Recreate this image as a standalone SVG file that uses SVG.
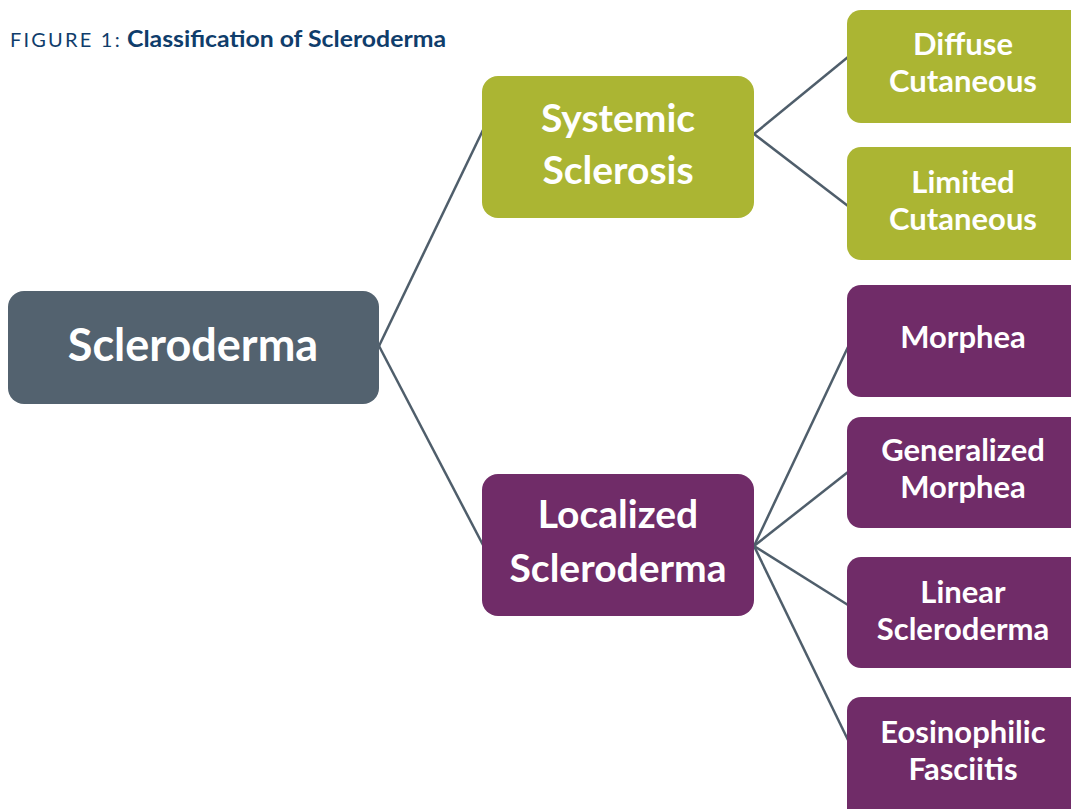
<svg xmlns="http://www.w3.org/2000/svg" width="1071" height="809" viewBox="0 0 1071 809">
<style>
.t{font-family:Lato,"Open Sans","Liberation Sans",sans-serif;font-weight:bold;fill:#ffffff;text-anchor:middle}
.big{font-size:45px}
.mid{font-size:39px}
.sm{font-size:31px}
.slate{fill:#53626f}
.olive{fill:#abb533}
.purple{fill:#702c68}
.con line{stroke:#4f5e6b;stroke-width:2.5;fill:none}
</style>
<rect width="1071" height="809" fill="#ffffff"/>
<text x="10" y="47" font-family="Lato,'Open Sans','Liberation Sans',sans-serif" font-size="20" fill="#0f3d6b"><tspan letter-spacing="2.2">FIGURE 1:</tspan></text>
<text x="127" y="47" font-family="Lato,'Open Sans','Liberation Sans',sans-serif" font-size="23" font-weight="bold" fill="#0f3d6b" textLength="319" lengthAdjust="spacingAndGlyphs">Classification of Scleroderma</text>
<g class="con">
<line x1="379" y1="346" x2="483" y2="130"/>
<line x1="379" y1="346" x2="483" y2="545"/>
<line x1="754" y1="134" x2="848" y2="57"/>
<line x1="754" y1="134" x2="848" y2="206"/>
<line x1="754" y1="546" x2="848" y2="347"/>
<line x1="754" y1="546" x2="848" y2="472"/>
<line x1="754" y1="546" x2="848" y2="605"/>
<line x1="754" y1="546" x2="848" y2="740"/>
</g>
<g id="scleroderma"><rect class="slate" x="8" y="291" width="371" height="113" rx="16"/><text class="t big" x="193" y="361">Scleroderma</text></g>
<g id="systemic"><rect class="olive" x="482" y="76" width="272" height="142" rx="16"/><text class="t mid" x="618" y="132">Systemic</text><text class="t mid" x="618" y="184">Sclerosis</text></g>
<g id="localized"><rect class="purple" x="482" y="474" width="272" height="142" rx="16"/><text class="t mid" x="618" y="528">Localized</text><text class="t mid" x="618" y="582">Scleroderma</text></g>
<g id="diffuse"><rect class="olive" x="847" y="10" width="240" height="113" rx="14"/><text class="t sm" x="963" y="55">Diffuse</text><text class="t sm" x="963" y="92">Cutaneous</text></g>
<g id="limited"><rect class="olive" x="847" y="147" width="240" height="113" rx="14"/><text class="t sm" x="963" y="193">Limited</text><text class="t sm" x="963" y="230">Cutaneous</text></g>
<g id="morphea"><rect class="purple" x="847" y="285" width="240" height="112" rx="14"/><text class="t sm" x="963" y="348">Morphea</text></g>
<g id="generalized"><rect class="purple" x="847" y="417" width="240" height="111" rx="14"/><text class="t sm" x="963" y="461">Generalized</text><text class="t sm" x="963" y="498">Morphea</text></g>
<g id="linear"><rect class="purple" x="847" y="557" width="240" height="111" rx="14"/><text class="t sm" x="963" y="603">Linear</text><text class="t sm" x="963" y="640">Scleroderma</text></g>
<g id="eosinophilic"><rect class="purple" x="847" y="697" width="240" height="125" rx="14"/><text class="t sm" x="963" y="743">Eosinophilic</text><text class="t sm" x="963" y="780">Fasciitis</text></g>
</svg>
